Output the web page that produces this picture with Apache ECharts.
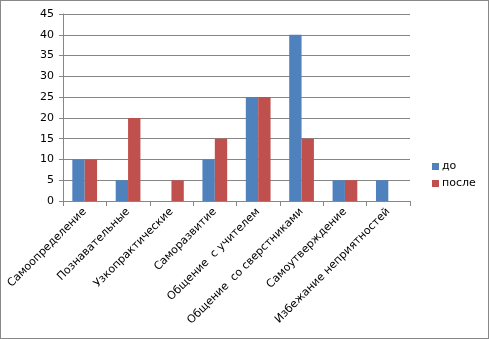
<!DOCTYPE html>
<html><head><meta charset="utf-8">
<script src="https://cdn.jsdelivr.net/npm/echarts@6/dist/echarts.min.js"></script>
<style>
html,body{margin:0;padding:0;background:#fff;}
#c{position:absolute;left:0;top:0;width:487px;height:337px;border:1px solid #888;}
</style></head>
<body><div id="c"></div>
<script>
const categories = ['Самоопределение','Познавательные','Узкопрактические','Саморазвитие','Общение  с учителем','Общение  со сверстниками','Самоутверждение','Избежание неприятностей'];
const before = [10, 5, 0, 10, 25, 40, 5, 5];
const after = [10, 20, 5, 15, 25, 15, 5, 0];
const seriesNames = ['до', 'после'];
const yTicks = {min: 0, max: 45, interval: 5};

const chart = echarts.init(document.getElementById('c'));
const font = 'DejaVu Sans';
chart.setOption({
  animation: false,
  textStyle: {fontFamily: font},
  grid: {left: 62, right: 78, top: 13, bottom: 137, containLabel: false},
  legend: {
    orient: 'vertical', left: 426, top: 155,
    itemWidth: 7, itemHeight: 7, itemGap: 6, icon: 'rect',
    textStyle: {fontFamily: font, fontSize: 11, color: '#000', padding: [0,0,0,-2]},
    data: seriesNames
  },
  xAxis: {
    type: 'category', data: categories,
    axisLine: {lineStyle: {color: '#868686'}},
    axisTick: {show: true, length: 5, lineStyle: {color: '#868686'}},
    axisLabel: {rotate: 45, interval: 0, fontSize: 11, color: '#000', fontFamily: font, margin: 9}
  },
  yAxis: {
    type: 'value', min: yTicks.min, max: yTicks.max, interval: yTicks.interval,
    axisLine: {show: true, lineStyle: {color: '#868686'}},
    axisTick: {show: true, length: 4, lineStyle: {color: '#868686'}},
    splitLine: {lineStyle: {color: '#868686'}},
    axisLabel: {fontSize: 11, color: '#000', fontFamily: font, margin: 9}
  },
  series: [
    {name: seriesNames[0], type: 'bar', data: before, itemStyle: {color: '#4F81BD'}, barGap: '0%', barCategoryGap: '43%'},
    {name: seriesNames[1], type: 'bar', data: after, itemStyle: {color: '#C0504D'}, barGap: '0%', barCategoryGap: '43%'}
  ]
});
</script></body></html>
